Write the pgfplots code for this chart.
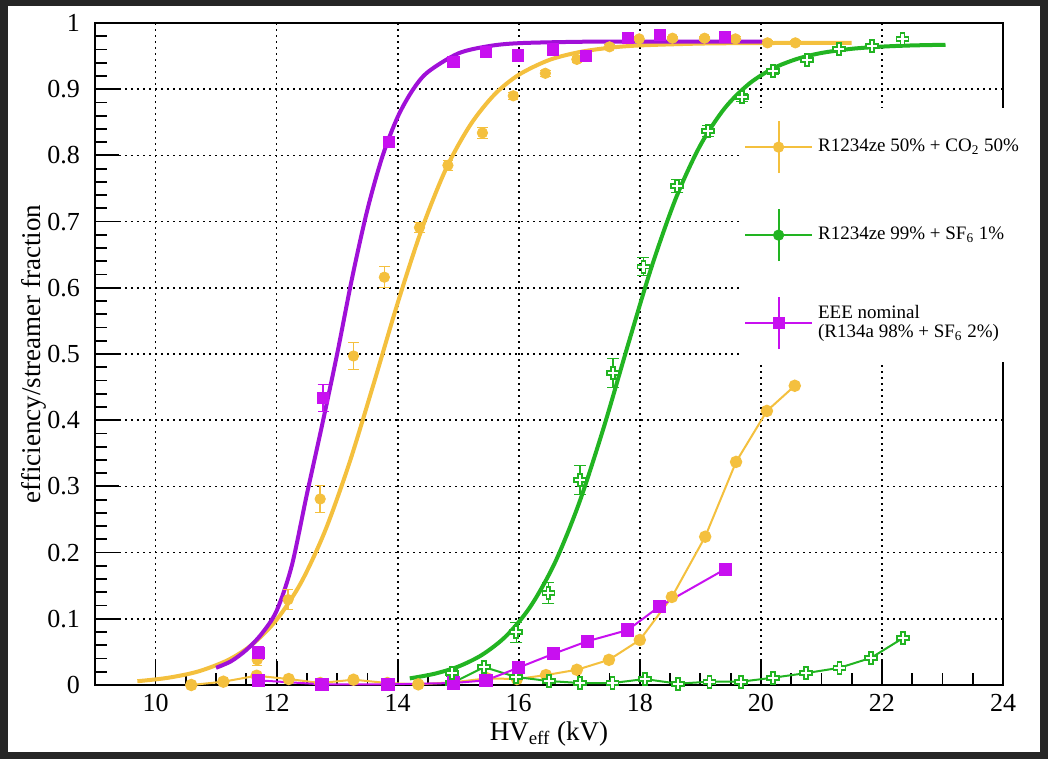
\documentclass[border=0pt]{standalone}
\usepackage{fontspec}
\setmainfont{Liberation Serif}
\usepackage{pgfplots}
\pgfplotsset{compat=1.18}
\definecolor{cyel}{HTML}{F4C03E}
\definecolor{cpurfit}{HTML}{A010D8}
\definecolor{cpur}{HTML}{C810F0}
\definecolor{cgreen}{HTML}{22B422}
\definecolor{cframe}{HTML}{262626}
\pgfdeclareplotmark{ocross}{%
  \pgfpathmoveto{\pgfqpoint{-0.33\pgfplotmarksize}{\pgfplotmarksize}}%
  \pgfpathlineto{\pgfqpoint{0.33\pgfplotmarksize}{\pgfplotmarksize}}%
  \pgfpathlineto{\pgfqpoint{0.33\pgfplotmarksize}{0.33\pgfplotmarksize}}%
  \pgfpathlineto{\pgfqpoint{\pgfplotmarksize}{0.33\pgfplotmarksize}}%
  \pgfpathlineto{\pgfqpoint{\pgfplotmarksize}{-0.33\pgfplotmarksize}}%
  \pgfpathlineto{\pgfqpoint{0.33\pgfplotmarksize}{-0.33\pgfplotmarksize}}%
  \pgfpathlineto{\pgfqpoint{0.33\pgfplotmarksize}{-\pgfplotmarksize}}%
  \pgfpathlineto{\pgfqpoint{-0.33\pgfplotmarksize}{-\pgfplotmarksize}}%
  \pgfpathlineto{\pgfqpoint{-0.33\pgfplotmarksize}{-0.33\pgfplotmarksize}}%
  \pgfpathlineto{\pgfqpoint{-\pgfplotmarksize}{-0.33\pgfplotmarksize}}%
  \pgfpathlineto{\pgfqpoint{-\pgfplotmarksize}{0.33\pgfplotmarksize}}%
  \pgfpathlineto{\pgfqpoint{-0.33\pgfplotmarksize}{0.33\pgfplotmarksize}}%
  \pgfpathclose
  \pgfusepathqfillstroke
}
\begin{document}
\begin{tikzpicture}
\useasboundingbox (-47.5pt,-37pt) rectangle (476.5pt,342.5pt);
\fill[cframe] (-47.5pt,-37pt) rectangle (476.5pt,342.5pt);
\fill[white] (-43.5pt,-33.5pt) rectangle (472.5pt,339.5pt);
\begin{axis}[
  at={(0pt,0pt)}, anchor=south west,
  width=454pt, height=331pt, scale only axis,
  xmin=9, xmax=24, ymin=0, ymax=1,
  xtick={10,12,14,16,18,20,22,24},
  ytick={0,0.1,0.2,0.3,0.4,0.5,0.6,0.7,0.8,0.9,1},
  minor x tick num=3, minor y tick num=4,
  tick align=inside, xtick pos=left, ytick pos=left,
  major tick length=12pt, minor tick length=6pt,
  grid=major,
  major grid style={black, line width=0.85pt, dash pattern=on 0.9pt off 2.1pt},
  axis line style={black, line width=0.7pt},
  every tick/.style={black, line width=0.9pt},
  tick label style={font=\fontsize{13}{15}\selectfont},
  /pgf/number format/assume math mode=true,
  yticklabel style={/pgf/number format/fixed, xshift=-4pt},
  xticklabel style={yshift=-1pt},
  label style={font=\fontsize{13.5}{16}\selectfont},
  xlabel={HV\textsubscript{eff} (kV)},
  ylabel={efficiency/streamer fraction},
  xlabel style={at={(axis description cs:0.5,-0.0831)}, anchor=base},
  ylabel style={at={(axis description cs:-0.0595,0.5)}, anchor=base},
  legend style={at={(rel axis cs:0.710,0.872)}, anchor=north west,
    fill=white, draw=none, row sep=17pt, inner xsep=2pt, inner ysep=6pt,
    font=\fontsize{9.5}{11.5}\selectfont,
    nodes={inner xsep=2.5pt}},
  legend cell align=left,
  error bars/error bar style={line width=0.8pt},
]
% ---- fit curves ----
\addplot[forget plot, cyel, line width=2pt, smooth] coordinates {
 (9.7,0.0057)(10.2,0.0108)(10.7,0.0203)(11.2,0.0378)(11.6,0.0615)(12.0,0.0986)
 (12.4,0.154)(12.8,0.2326)(13.2,0.3347)(13.6,0.454)(14.0,0.577)(14.4,0.689)
 (14.8,0.780)(15.2,0.846)(15.6,0.892)(16.0,0.9217)(16.5,0.944)(17.0,0.956)
 (17.5,0.9626)(18.0,0.9661)(19.0,0.9689)(20.0,0.9697)(21.5,0.970)};
\addplot[forget plot, cgreen, line width=2pt, smooth] coordinates {
 (14.2,0.0100)(14.6,0.0168)(15.0,0.0278)(15.4,0.0459)(15.8,0.0747)(16.2,0.1194)
 (16.6,0.1852)(17.0,0.2755)(17.4,0.3878)(17.8,0.5123)(18.2,0.6330)(18.6,0.7362)
 (19.0,0.8153)(19.4,0.8710)(19.8,0.9078)(20.2,0.9313)(20.6,0.9458)(21.0,0.9547)
 (21.5,0.9610)(22.0,0.9643)(22.5,0.9661)(23.05,0.9671)};
\addplot[forget plot, cpurfit, line width=2pt, smooth] coordinates {
 (11.0,0.026)(11.25,0.036)(11.5,0.053)(11.75,0.077)(12.0,0.112)(12.25,0.180)
 (12.5,0.288)(12.75,0.392)(13.0,0.500)(13.25,0.616)(13.5,0.718)(13.75,0.799)
 (14.0,0.858)(14.25,0.899)(14.5,0.926)(15.0,0.954)(15.5,0.965)(16.0,0.9695)
 (17.0,0.9716)(18.0,0.972)(20.1,0.972)};
% ---- streamer fractions ----
\addplot[forget plot, cyel, line width=1pt, mark=*, mark size=2.6pt] coordinates {
 (10.59,0.000)(11.12,0.005)(11.67,0.014)(12.20,0.009)(12.72,0.003)(13.27,0.008)
 (13.83,0.003)(14.34,0.001)(14.90,0.004)(15.48,0.010)(15.97,0.009)(16.45,0.015)
 (16.96,0.023)(17.49,0.038)(18.00,0.068)(18.53,0.133)(19.08,0.224)(19.59,0.337)
 (20.10,0.414)(20.56,0.452)};
\addplot[forget plot, cgreen, line width=1pt, mark=ocross, mark size=3pt,
  mark options={fill=white, line width=0.9pt}] coordinates {
 (14.90,0.003)(15.43,0.027)(15.96,0.012)(16.50,0.006)(17.01,0.003)(17.55,0.003)
 (18.08,0.009)(18.63,0.002)(19.15,0.005)(19.67,0.005)(20.20,0.011)(20.75,0.018)
 (21.30,0.026)(21.82,0.041)(22.35,0.071)};
\addplot[forget plot, cpur, line width=1pt, mark=square*, mark size=2.8pt] coordinates {
 (11.70,0.007)(12.75,0.001)(13.84,0.001)(14.92,0.003)(15.46,0.007)(15.99,0.026)
 (16.57,0.047)(17.13,0.066)(17.80,0.083)(18.33,0.119)(19.41,0.175)};
% ---- efficiencies ----
\addplot[forget plot, only marks, cyel, mark=*, mark size=2.6pt,
  error bars/.cd, y dir=both, y explicit] coordinates {
 (11.68,0.038) +- (0,0.008)
 (12.19,0.129) +- (0,0.015)
 (12.72,0.281) +- (0,0.02)
 (13.27,0.497) +- (0,0.02)
 (13.78,0.616) +- (0,0.016)
 (14.36,0.691) +- (0,0.008)
 (14.83,0.785) +- (0,0.008)
 (15.40,0.834) +- (0,0.008)
 (15.91,0.890) +- (0,0.005)
 (16.44,0.924) +- (0,0.005)
 (16.96,0.945) +- (0,0.004)
 (17.50,0.964) +- (0,0.003)
 (17.99,0.976) +- (0,0.003)
 (18.54,0.977) +- (0,0.003)
 (19.07,0.977) +- (0,0.003)
 (19.58,0.976) +- (0,0.003)
 (20.11,0.970) +- (0,0.003)
 (20.57,0.970) +- (0,0.003)};
\addplot[forget plot, only marks, cgreen, mark=ocross, mark size=3pt,
  mark options={fill=white, line width=0.9pt},
  error bars/.cd, y dir=both, y explicit] coordinates {
 (14.90,0.018) +- (0,0.005)
 (15.96,0.080) +- (0,0.015)
 (16.49,0.139) +- (0,0.016)
 (17.01,0.310) +- (0,0.022)
 (17.56,0.471) +- (0,0.022)
 (18.06,0.632) +- (0,0.014)
 (18.62,0.754) +- (0,0.01)
 (19.13,0.837) +- (0,0.008)
 (19.69,0.888) +- (0,0.006)
 (20.20,0.927) +- (0,0.005)
 (20.76,0.944) +- (0,0.004)
 (21.29,0.961) +- (0,0.004)
 (21.83,0.965) +- (0,0.004)
 (22.34,0.976) +- (0,0.003)};
\addplot[forget plot, only marks, cpur, mark=square*, mark size=2.8pt,
  error bars/.cd, y dir=both, y explicit] coordinates {
 (11.70,0.048) +- (0,0.01)
 (12.77,0.434) +- (0,0.02)
 (13.86,0.820) +- (0,0.008)
 (14.92,0.941) +- (0,0.004)
 (15.46,0.956) +- (0,0.004)
 (15.99,0.951) +- (0,0.004)
 (16.57,0.960) +- (0,0.004)
 (17.11,0.950) +- (0,0.004)
 (17.80,0.977) +- (0,0.003)
 (18.33,0.982) +- (0,0.003)
 (19.41,0.979) +- (0,0.003)};
% ---- legend ----
\addlegendimage{legend image code/.code={
  \draw[cyel, line width=1pt] (0pt,0pt) -- (33.5pt,0pt);
  \draw[cyel, line width=1pt] (16.75pt,-13pt) -- (16.75pt,13pt);
  \fill[cyel] (16.75pt,0pt) circle (2.6pt);}}
\addlegendentry{R1234ze 50\% + CO\textsubscript{2} 50\%}
\addlegendimage{legend image code/.code={
  \draw[cgreen, line width=1pt] (0pt,0pt) -- (33.5pt,0pt);
  \draw[cgreen, line width=1pt] (16.75pt,-13pt) -- (16.75pt,13pt);
  \fill[cgreen] (16.75pt,0pt) circle (2.6pt);}}
\addlegendentry{R1234ze 99\% + SF\textsubscript{6} 1\%}
\addlegendimage{legend image code/.code={
  \draw[cpur, line width=1pt] (0pt,0pt) -- (33.5pt,0pt);
  \draw[cpur, line width=1pt] (16.75pt,-13pt) -- (16.75pt,13pt);
  \fill[cpur] (14.05pt,-2.7pt) rectangle (19.45pt,2.7pt);}}
\addlegendentry{\shortstack[l]{EEE nominal\\(R134a 98\% + SF\textsubscript{6} 2\%)}}
\end{axis}
\end{tikzpicture}
\end{document}
